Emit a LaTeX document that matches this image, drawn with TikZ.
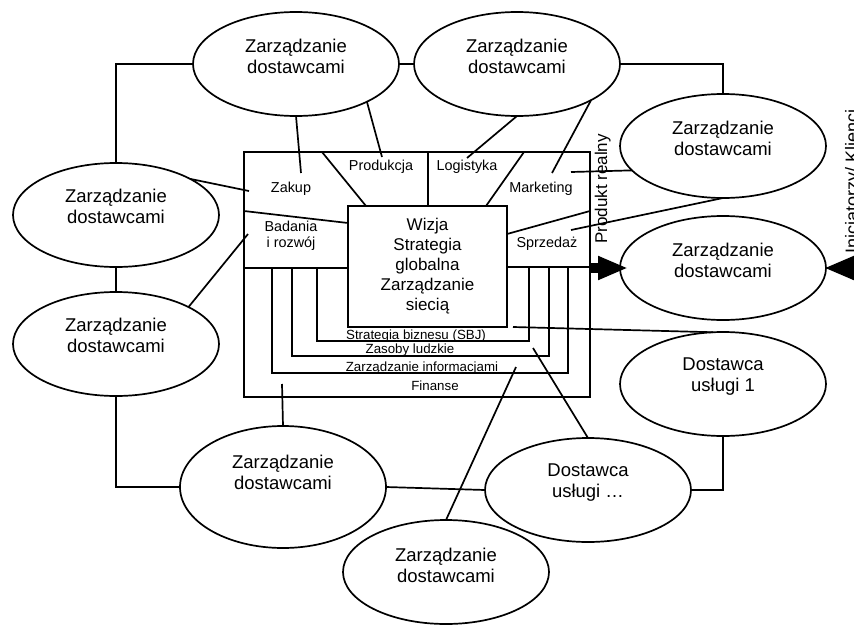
\documentclass[tikz,border=0pt]{standalone}
\usepackage{fontspec}
\setmainfont{Liberation Sans}
\usetikzlibrary{shapes.geometric,arrows.meta}
\begin{document}
\begin{tikzpicture}[x=1pt,y=-1pt, line width=1.7pt,
  oval/.style={draw, ellipse, minimum width=206pt, minimum height=104pt, inner sep=0pt, outer sep=0pt},
  otext/.style={align=center, inner sep=0pt, font=\fontsize{18.5}{21}\selectfont},
  lbl/.style={anchor=base, inner sep=0pt, font=\fontsize{14.4}{16}\selectfont},
  ulbl/.style={anchor=base, inner sep=0pt, font=\fontsize{13.3}{15}\selectfont},
  vtext/.style={rotate=90, anchor=base, inner sep=0pt},
  bigarrow/.style={line width=10pt, -{Triangle[length=30pt,width=22pt]}},
]
\useasboundingbox (0,0) rectangle (854,624);

% frame and core
\node[draw, rectangle, minimum width=346pt, minimum height=245pt, inner sep=0pt, outer sep=0pt] (frame) at (417,274.5) {};
\node[draw, rectangle, minimum width=159pt, minimum height=121pt, inner sep=0pt, outer sep=0pt,
      align=center, font=\fontsize{17}{20}\selectfont] (core) at (427.5,266.5)
      {Wizja\\Strategia\\globalna\\Zarządzanie\\siecią};

% internal division lines
\draw (428,152) -- (428,206);
\draw (322,152) -- (366,206);
\draw (524,152) -- (486,206);
\draw (244,211) -- (348,223);
\draw (507,234) -- (590,211);
\draw (244,268) -- (348,268);
\draw (507,267) -- (590,267);
\draw (317,268) |- (529,341) -- (529,267);
\draw (292,268) |- (549,356) -- (549,267);
\draw (272,268) |- (568,373) -- (568,267);

% labels inside frame
\node[lbl] (zakup) at (291,192) {Zakup};
\node[lbl] (produkcja) at (381,170) {Produkcja};
\node[lbl] (logistyka) at (467,170) {Logistyka};
\node[lbl] (marketing) at (541,192) {Marketing};
\node[lbl] (sprzedaz) at (547,247) {Sprzedaż};
\node[align=center, inner sep=0pt, font=\fontsize{14.4}{16}\selectfont] (badania) at (291,235.3) {Badania\\i rozwój};
\node[ulbl] (sbj) at (416,339) {Strategia biznesu (SBJ)};
\node[ulbl] (zasoby) at (410,353.5) {Zasoby ludzkie};
\node[ulbl] (zinf) at (422,371) {Zarządzanie informacjami};
\node[ulbl] (finanse) at (435,390) {Finanse};

% ellipses
\node[oval] (E1) at (296,64) {};
\node[oval] (E2) at (517,64) {};
\node[oval] (E3) at (723,146) {};
\node[oval] (E4) at (723,268) {};
\node[oval] (E5) at (723,384) {};
\node[oval] (E6) at (588,490) {};
\node[oval] (E7) at (446,572) {};
\node[oval, minimum height=122pt] (E8) at (283,487) {};
\node[oval] (E9) at (116,215) {};
\node[oval] (E10) at (116,344) {};

\node[otext] (t1) at ([yshift=8pt]E1.center) {Zarządzanie\\dostawcami};
\node[otext] (t2) at ([yshift=8pt]E2.center) {Zarządzanie\\dostawcami};
\node[otext] (t3) at ([yshift=8pt]E3.center) {Zarządzanie\\dostawcami};
\node[otext] (t4) at ([yshift=8pt]E4.center) {Zarządzanie\\dostawcami};
\node[otext] (t5) at ([yshift=7pt]E5.center) {Dostawca\\usługi 1};
\node[otext] (t6) at ([yshift=7.5pt]E6.center) {Dostawca\\usługi …};
\node[otext] (t7) at ([yshift=7pt]E7.center) {Zarządzanie\\dostawcami};
\node[otext] (t8) at ([yshift=15pt]E8.center) {Zarządzanie\\dostawcami};
\node[otext] (t9) at ([yshift=8.5pt]E9.center) {Zarządzanie\\dostawcami};
\node[otext] (t10) at ([yshift=8.5pt]E10.center) {Zarządzanie\\dostawcami};

% vertical texts
\node[vtext, font=\fontsize{17}{20}\selectfont] (produkt) at (607,189) {Produkt realny};
\node[vtext, font=\fontsize{18}{20}\selectfont] (klienci) at (858,181) {Iniciatorzy/ Klienci};

% free ends of connectors
\coordinate (zakupA) at (301,173);
\coordinate (prodA) at (382,157);
\coordinate (logA) at (467,158);
\coordinate (markA) at (552,173);
\coordinate (markB) at (571,172);
\coordinate (sprzA) at (571,230);
\coordinate (zakupB) at (249,191);
\coordinate (badA) at (248,234);
\coordinate (finA) at (282,384);
\coordinate (infA) at (516,367);
\coordinate (zasA) at (533,348);
\coordinate (sbjA) at (513,327);
\coordinate (cli) at (880,268);

% connectors
\draw (E1.west) -| (E9.north);
\draw (E1.east) -- (E2.west);
\draw (E2.east) -| (E3.north);
\draw (E9.south) -- (E10.north);
\draw (E10.south) |- (E8.west);
\draw (E8.east) -- (E6.west);
\draw (E5.south) |- (E6.east);
\draw (E1.south) -- (zakupA);
\draw (E1.-28) -- (prodA);
\draw (E2.south) -- (logA);
\draw (E2.-26) -- (markA);
\draw (markB) -- (E3.195);
\draw (sprzA) -- (E3.south);
\draw (E9.26) -- (zakupB);
\draw (E10.27) -- (badA);
\draw (E8.north) -- (finA);
\draw (E7.north) -- (infA);
\draw (E6.north) -- (zasA);
\draw (E5.101) -- (sbjA);
\draw[bigarrow] (frame.east |- E4.west) -- ([xshift=8pt]E4.west);
\draw[bigarrow] (cli) -- ([xshift=-2pt]E4.east);
\end{tikzpicture}
\end{document}
